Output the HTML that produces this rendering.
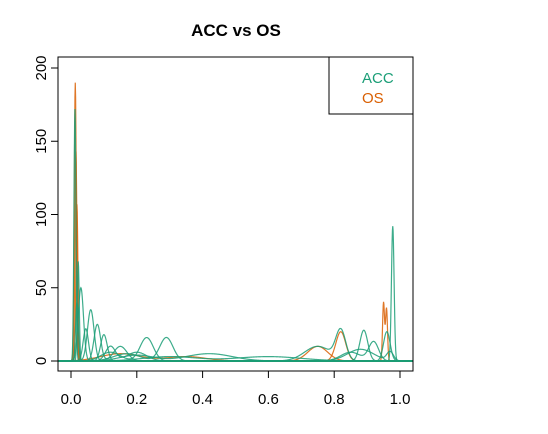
<!DOCTYPE html>
<html><head><meta charset="utf-8"><style>
body{margin:0;background:#fff;}
svg text{font-family:"Liberation Sans",sans-serif;}
</style></head><body>
<svg width="548" height="429" viewBox="0 0 548 429" xmlns="http://www.w3.org/2000/svg">
<rect width="548" height="429" fill="#fff"/>
<text x="236" y="36" text-anchor="middle" font-size="17" font-weight="bold">ACC vs OS</text>
<g id="curves"></g>
<rect x="58" y="57" width="355" height="314" fill="none" stroke="#000"/>
<g id="axes"></g>
<g>
<rect x="329" y="57" width="84" height="57" fill="#fff" stroke="#000"/>
<text x="362" y="83" font-size="15" fill="#1B9E77">ACC</text>
<text x="362" y="103" font-size="15" fill="#D95F02">OS</text>
</g>
</svg>
<script>
// each curve: list of [center, height, sd] gaussian components
const accCurves = [
 [[0.012,172,0.003]],
 [[0.022,68,0.003]],
 [[0.03,50,0.008]],
 [[0.018,40,0.004],[0.06,35,0.01]],
 [[0.045,22,0.008],[0.1,18,0.01]],
 [[0.08,25,0.01],[0.15,10,0.02]],
 [[0.12,10,0.015],[0.2,6,0.03]],
 [[0.23,16,0.02],[0.12,6,0.03]],
 [[0.29,16,0.02],[0.17,5,0.04]],
 [[0.42,5,0.07],[0.2,4,0.05]],
 [[0.6,3,0.1],[0.3,3,0.08]],
 [[0.978,92,0.004]],
 [[0.82,20,0.015],[0.75,10,0.04]],
 [[0.89,21,0.012]],
 [[0.92,13,0.015],[0.85,6,0.03]],
 [[0.96,20,0.01]],
 [[0.88,8,0.04],[0.97,6,0.01]]
];
const osCurves = [
 [[0.013,190,0.003]],
 [[0.015,143,0.003]],
 [[0.018,107,0.003]],
 [[0.95,40,0.003],[0.959,36,0.003]],
 [[0.82,20,0.015]],
 [[0.75,10,0.03]],
 [[0.15,5,0.06],[0.35,3,0.06]]
];
const xTicks = [0,0.2,0.4,0.6,0.8,1.0];
const xTickLabels = ["0.0","0.2","0.4","0.6","0.8","1.0"];
const yTicks = [0,50,100,150,200];
const yTickLabels = ["0","50","100","150","200"];

const NS="http://www.w3.org/2000/svg";
const xs=v=>71+v*329;
const ys=d=>361-d*1.465;
const g=document.getElementById('curves');
function draw(curve,color,name){
  let pts=[];
  for(let i=0;i<=1080;i++){
    const x=-0.04+i*0.001;
    let d=0;
    curve.forEach(c=>{d+=c[1]*Math.exp(-0.5*((x-c[0])/c[2])**2);});
    pts.push(xs(x).toFixed(2)+','+ys(d).toFixed(2));
  }
  const p=document.createElementNS(NS,'polyline');
  p.setAttribute('points',pts.join(' '));
  p.setAttribute('fill','none');
  p.setAttribute('stroke',color);
  p.setAttribute('stroke-width','1.2');
  p.setAttribute('stroke-opacity','0.85');
  
  
  g.appendChild(p);
}
const clip=document.createElementNS(NS,'clipPath');clip.id='cp';
const cr=document.createElementNS(NS,'rect');cr.setAttribute('x',58);cr.setAttribute('y',57);cr.setAttribute('width',355);cr.setAttribute('height',314);
clip.appendChild(cr);document.querySelector('svg').appendChild(clip);
g.setAttribute('clip-path','url(#cp)');
osCurves.forEach((c,i)=>draw(c,'#D95F02','os-curve-'+i));
accCurves.forEach((c,i)=>draw(c,'#1B9E77','acc-curve-'+i));

const ax=document.getElementById('axes');
function line(x1,y1,x2,y2,name){const l=document.createElementNS(NS,'line');
 l.setAttribute('x1',x1);l.setAttribute('y1',y1);l.setAttribute('x2',x2);l.setAttribute('y2',y2);l.setAttribute('stroke','#000');
 
 
 ax.appendChild(l);}
function text(x,y,s,name,rot){const t=document.createElementNS(NS,'text');
 t.setAttribute('x',x);t.setAttribute('y',y);t.setAttribute('text-anchor','middle');t.setAttribute('font-size','15');
 if(rot)t.setAttribute('transform','rotate(-90 '+x+' '+y+')');
 t.textContent=s;
 
 
 ax.appendChild(t);}
line(xs(0),371,xs(1),371,'x-axis-line');
xTicks.forEach((v,i)=>{line(xs(v),371,xs(v),378,'x-tick');text(xs(v),404,xTickLabels[i],'x-tick-label');});
line(58,ys(0),58,ys(200),'y-axis-line');
yTicks.forEach((v,i)=>{line(51,ys(v),58,ys(v),'y-tick');text(46,ys(v),yTickLabels[i],'y-tick-label',true);});
</script>
</body></html>
